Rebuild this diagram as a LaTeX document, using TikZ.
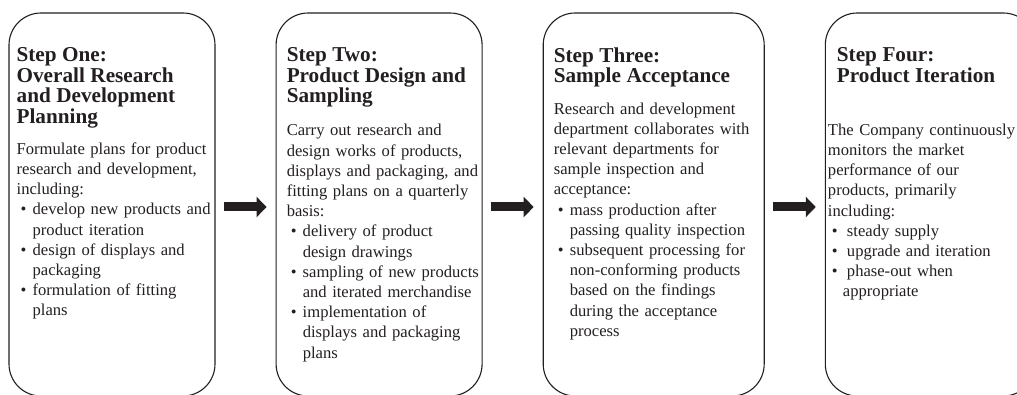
\documentclass[tikz,border=0pt]{standalone}
\usepackage{fontspec}
\setmainfont{Liberation Serif}
\usetikzlibrary{arrows.meta, positioning}

\definecolor{ink}{HTML}{231F20}
\newcommand{\headfont}{\fontsize{21.2}{20.5}\selectfont\bfseries}
\newcommand{\bodyfont}{\fontsize{16.6}{20.2}\selectfont}
\newcommand{\bul}[1][16pt]{\makebox[#1][l]{\hspace{4pt}\textbullet}}
\newcommand{\ind}{\hspace*{16pt}}

\begin{document}
\begin{tikzpicture}[
        x=1pt, y=-1pt,
        node distance=60pt,
        stepbox/.style={rectangle, draw=ink, line width=1.1pt, rounded corners=32pt, minimum height=383pt, inner sep=0pt},
        steptext/.style={anchor=north west, inner sep=0pt, text width=240pt, align=left, text=ink, font=\bodyfont},
        arrow/.style={-{Triangle[length=10pt, width=20pt]}, line width=9pt, draw=ink, shorten <=8pt, shorten >=9pt}
    ]
        \useasboundingbox (0,0) rectangle (1017,395);
        \clip (0,0) rectangle (1017,395);

        % Step boxes
        \node[stepbox, minimum width=206pt] (step1) at (112,204.5) {};
        \node[stepbox, minimum width=206pt, right=of step1] (step2) {};
        \node[stepbox, minimum width=221pt, right=of step2] (step3) {};
        \node[stepbox, minimum width=210pt, right=of step3] (step4) {};

        % Step texts
        \node[steptext] (text1) at ([xshift=8pt, yshift=-35pt]step1.north west) {%
            {\headfont Step One:\\ Overall Research\\ and Development\\ Planning\par}
            \vspace{11pt}
            Formulate plans for product\\
            research and development,\\
            including:\\
            \bul develop new products and\\
            \ind product iteration\\
            \bul design of displays and\\
            \ind packaging\\
            \bul formulation of fitting\\
            \ind plans};
        \node[steptext] (text2) at ([xshift=11pt, yshift=-35pt]step2.north west) {%
            {\headfont Step Two:\\ Product Design and\\ Sampling\par}
            \vspace{13pt}
            Carry out research and\\
            design works of products,\\
            displays and packaging, and\\
            fitting plans on a quarterly\\
            basis:\\
            \bul delivery of product\\
            \ind design drawings\\
            \bul sampling of new products\\
            \ind and iterated merchandise\\
            \bul implementation of\\
            \ind displays and packaging\\
            \ind plans};
        \node[steptext] (text3) at ([xshift=11pt, yshift=-35pt]step3.north west) {%
            {\headfont Step Three:\\ Sample Acceptance\par}
            \vspace{11pt}
            Research and development\\
            department collaborates with\\
            relevant departments for\\
            sample inspection and\\
            acceptance:\\
            \bul mass production after\\
            \ind passing quality inspection\\
            \bul subsequent processing for\\
            \ind non-conforming products\\
            \ind based on the findings\\
            \ind during the acceptance\\
            \ind process};
        \node[steptext] (text4) at ([xshift=3pt, yshift=-35pt]step4.north west) {%
            {\headfont \hspace*{9pt}Step Four:\\ \hspace*{9pt}Product Iteration\par}
            \vspace{33pt}
            The Company continuously\\
            monitors the market\\
            performance of our\\
            products, primarily\\
            including:\\
            \bul[19pt]steady supply\\
            \bul[19pt]upgrade and iteration\\
            \bul[19pt]phase-out when\\
            \hspace*{15pt}appropriate};

        % Flow arrows
        \draw[arrow] ([yshift=-2.5pt]step1.east) -- ([yshift=-2.5pt]step2.west);
        \draw[arrow] ([yshift=-2.5pt]step2.east) -- ([yshift=-2.5pt]step3.west);
        \draw[arrow] ([yshift=-2.5pt]step3.east) -- ([yshift=-2.5pt]step4.west);
\end{tikzpicture}
\end{document}
